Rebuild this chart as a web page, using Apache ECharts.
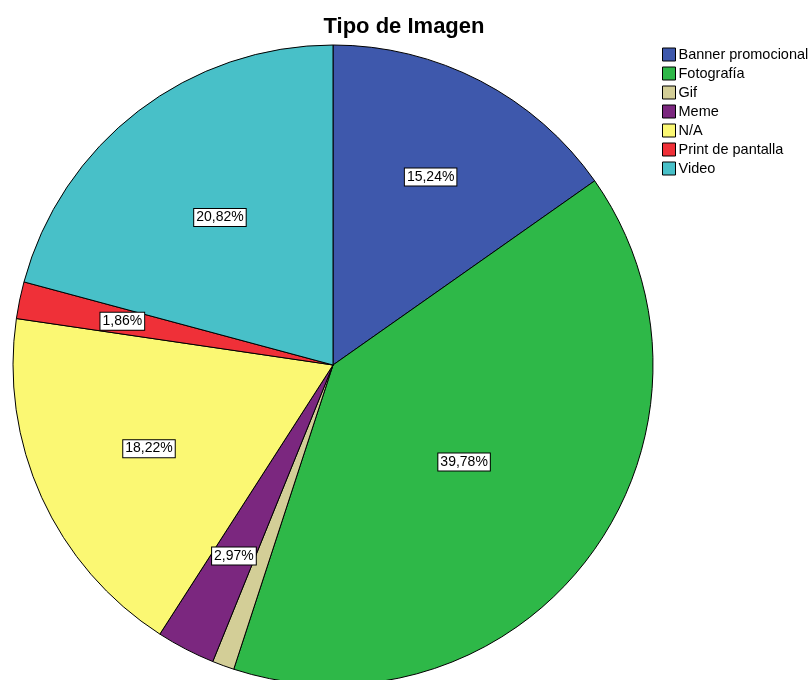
<!DOCTYPE html>
<html>
<head>
<meta charset="utf-8">
<script src="https://cdn.jsdelivr.net/npm/echarts@6/dist/echarts.min.js"></script>
<style>
  html, body { margin: 0; padding: 0; background: #fff; }
  #chart { width: 809px; height: 680px; }
</style>
</head>
<body>
<div id="chart"></div>
<script>
// categorias y porcentajes
const categories = ['Banner promocional', 'Fotografía', 'Gif', 'Meme', 'N/A', 'Print de pantalla', 'Video'];
const percentages = [15.24, 39.78, 1.11, 2.97, 18.22, 1.86, 20.82];
const showLabel = [true, true, false, true, true, true, true];

const colors = ['#3e58ac', '#2eb848', '#d3ce97', '#7b277f', '#fbf873', '#ef3038', '#48c0c8'];
// label distance from centre, as a share of the radius
const labelDist = [0.65, 0.5, 0.5, 0.66, 0.62, 0.66, 0.57];

const cx = 333;
const cy = 365;
const R = 320;

const myChart = echarts.init(document.getElementById('chart'));

const option = {
  animation: false,
  color: colors,
  title: {
    text: 'Tipo de Imagen',
    left: 399,
    top: 11,
    textAlign: 'center',
    textStyle: { fontFamily: 'Liberation Sans', fontSize: 22, fontWeight: 'bold', color: '#000' },
  },
  legend: {
    orient: 'vertical',
    left: 657,
    top: 42,
    itemWidth: 13,
    itemHeight: 13,
    itemGap: 4,
    icon: 'rect',
    itemStyle: { borderColor: '#000', borderWidth: 1 },
    textStyle: { fontFamily: 'Liberation Sans', fontSize: 14.5, color: '#000', padding: [0, 0, 0, -2] },
    data: categories,
  },
  series: [{
    type: 'pie',
    center: [cx, cy],
    radius: [0, R],
    startAngle: 90,
    clockwise: true,
    avoidLabelOverlap: false,
    itemStyle: { borderColor: '#000', borderWidth: 1 },
    emphasis: { disabled: true },
    label: {
      position: 'inside',
      formatter: (p) => p.value.toFixed(2).replace('.', ',') + '%',
      fontFamily: 'Liberation Sans',
      fontSize: 14,
      color: '#000',
      backgroundColor: '#fff',
      borderColor: '#000',
      borderWidth: 1,
      padding: [2, 2, 1, 2],
    },
    labelLine: { show: false },
    labelLayout(params) {
      const lx = params.labelRect.x + params.labelRect.width / 2;
      const ly = params.labelRect.y + params.labelRect.height / 2;
      const k = labelDist[params.dataIndex] / 0.5;
      return { x: cx + (lx - cx) * k, y: cy + (ly - cy) * k };
    },
    data: categories.map((name, i) => ({
      name,
      value: percentages[i],
      label: { show: showLabel[i] },
    })),
  }],
};

myChart.setOption(option);
</script>
</body>
</html>
